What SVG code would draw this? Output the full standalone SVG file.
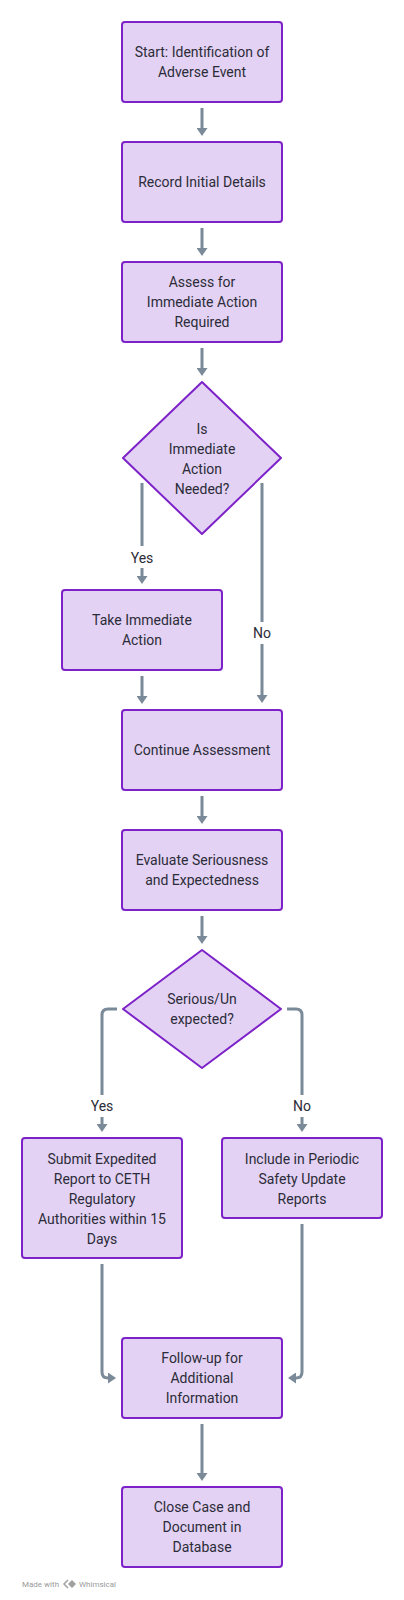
<svg xmlns="http://www.w3.org/2000/svg" width="404" height="1600" viewBox="0 0 404 1600">
<defs>
<style>
.box{fill:#e3d2f4;stroke:#7d22c9;stroke-width:2}
.t{font-family:Roboto,"Liberation Sans",sans-serif;font-size:14px;fill:#2c2c38;text-anchor:middle}
.c{fill:none;stroke:#7b8a98;stroke-width:3}
.wm{font-family:Roboto,"Liberation Sans",sans-serif;font-size:8px;fill:#9a9a9a}
</style>
<marker id="ah" viewBox="0 0 8 11" refX="2" refY="5.5" markerWidth="8" markerHeight="11" markerUnits="userSpaceOnUse" orient="auto">
<path d="M0,0 L8,5.5 L0,11 z" fill="#7b8a98"/>
</marker>
</defs>
<rect width="404" height="1600" fill="#ffffff"/>
<g id="connectors">
<path class="c" d="M202,108 V130" marker-end="url(#ah)"/>
<path class="c" d="M202,228 V250" marker-end="url(#ah)"/>
<path class="c" d="M202,348 V370" marker-end="url(#ah)"/>
<path class="c" d="M142,483 V546"/>
<path class="c" d="M142,568 V578" marker-end="url(#ah)"/>
<text class="t" x="142" y="563">Yes</text>
<path class="c" d="M262,483 V622"/>
<path class="c" d="M262,644 V697" marker-end="url(#ah)"/>
<text class="t" x="262" y="638">No</text>
<path class="c" d="M142,676 V698" marker-end="url(#ah)"/>
<path class="c" d="M202,796 V818" marker-end="url(#ah)"/>
<path class="c" d="M202,916 V938" marker-end="url(#ah)"/>
<path class="c" d="M117,1009 H108 Q102,1009 102,1015 V1095"/>
<path class="c" d="M102,1117 V1126" marker-end="url(#ah)"/>
<text class="t" x="102" y="1111">Yes</text>
<path class="c" d="M287,1009 H296 Q302,1009 302,1015 V1095"/>
<path class="c" d="M302,1117 V1126" marker-end="url(#ah)"/>
<text class="t" x="302" y="1111">No</text>
<path class="c" d="M102,1264 V1372 Q102,1378 108,1378 H110" marker-end="url(#ah)"/>
<path class="c" d="M302,1224 V1372 Q302,1378 296,1378 H294" marker-end="url(#ah)"/>
<path class="c" d="M202,1424 V1475" marker-end="url(#ah)"/>
</g>
<g id="n1">
<rect class="box" x="122" y="22" width="160" height="80" rx="3"/>
<text class="t" x="202" y="57">Start: Identification of</text>
<text class="t" x="202" y="77">Adverse Event</text>
</g>
<g id="n2">
<rect class="box" x="122" y="142" width="160" height="80" rx="3"/>
<text class="t" x="202" y="187">Record Initial Details</text>
</g>
<g id="n3">
<rect class="box" x="122" y="262" width="160" height="80" rx="3"/>
<text class="t" x="202" y="287">Assess for</text>
<text class="t" x="202" y="307">Immediate Action</text>
<text class="t" x="202" y="327">Required</text>
</g>
<g id="d1">
<path class="box" d="M202,382 L281,458 L202,534 L123,458 Z" stroke-linejoin="round"/>
<text class="t" x="202" y="434">Is</text>
<text class="t" x="202" y="454">Immediate</text>
<text class="t" x="202" y="474">Action</text>
<text class="t" x="202" y="494">Needed?</text>
</g>
<g id="n4">
<rect class="box" x="62" y="590" width="160" height="80" rx="3"/>
<text class="t" x="142" y="625">Take Immediate</text>
<text class="t" x="142" y="645">Action</text>
</g>
<g id="n5">
<rect class="box" x="122" y="710" width="160" height="80" rx="3"/>
<text class="t" x="202" y="755">Continue Assessment</text>
</g>
<g id="n6">
<rect class="box" x="122" y="830" width="160" height="80" rx="3"/>
<text class="t" x="202" y="865">Evaluate Seriousness</text>
<text class="t" x="202" y="885">and Expectedness</text>
</g>
<g id="d2">
<path class="box" d="M202,950 L281,1009 L202,1068 L123,1009 Z" stroke-linejoin="round"/>
<text class="t" x="202" y="1004">Serious/Un</text>
<text class="t" x="202" y="1024">expected?</text>
</g>
<g id="n7">
<rect class="box" x="22" y="1138" width="160" height="120" rx="3"/>
<text class="t" x="102" y="1164">Submit Expedited</text>
<text class="t" x="102" y="1184">Report to CETH</text>
<text class="t" x="102" y="1204">Regulatory</text>
<text class="t" x="102" y="1224">Authorities within 15</text>
<text class="t" x="102" y="1244">Days</text>
</g>
<g id="n8">
<rect class="box" x="222" y="1138" width="160" height="80" rx="3"/>
<text class="t" x="302" y="1164">Include in Periodic</text>
<text class="t" x="302" y="1184">Safety Update</text>
<text class="t" x="302" y="1204">Reports</text>
</g>
<g id="n9">
<rect class="box" x="122" y="1338" width="160" height="80" rx="3"/>
<text class="t" x="202" y="1363">Follow-up for</text>
<text class="t" x="202" y="1383">Additional</text>
<text class="t" x="202" y="1403">Information</text>
</g>
<g id="n10">
<rect class="box" x="122" y="1487" width="160" height="80" rx="3"/>
<text class="t" x="202" y="1512">Close Case and</text>
<text class="t" x="202" y="1532">Document in</text>
<text class="t" x="202" y="1552">Database</text>
</g>
<g id="watermark">
<text class="wm" x="22" y="1587">Made with</text>
<path d="M68,1580 L64,1584 L68,1588" fill="none" stroke="#a0a0a0" stroke-width="1.5"/>
<path d="M72,1580 L76,1584 L72,1588 L68,1584 Z" fill="#a0a0a0"/>
<text class="wm" x="79" y="1587">Whimsical</text>
</g>
</svg>
